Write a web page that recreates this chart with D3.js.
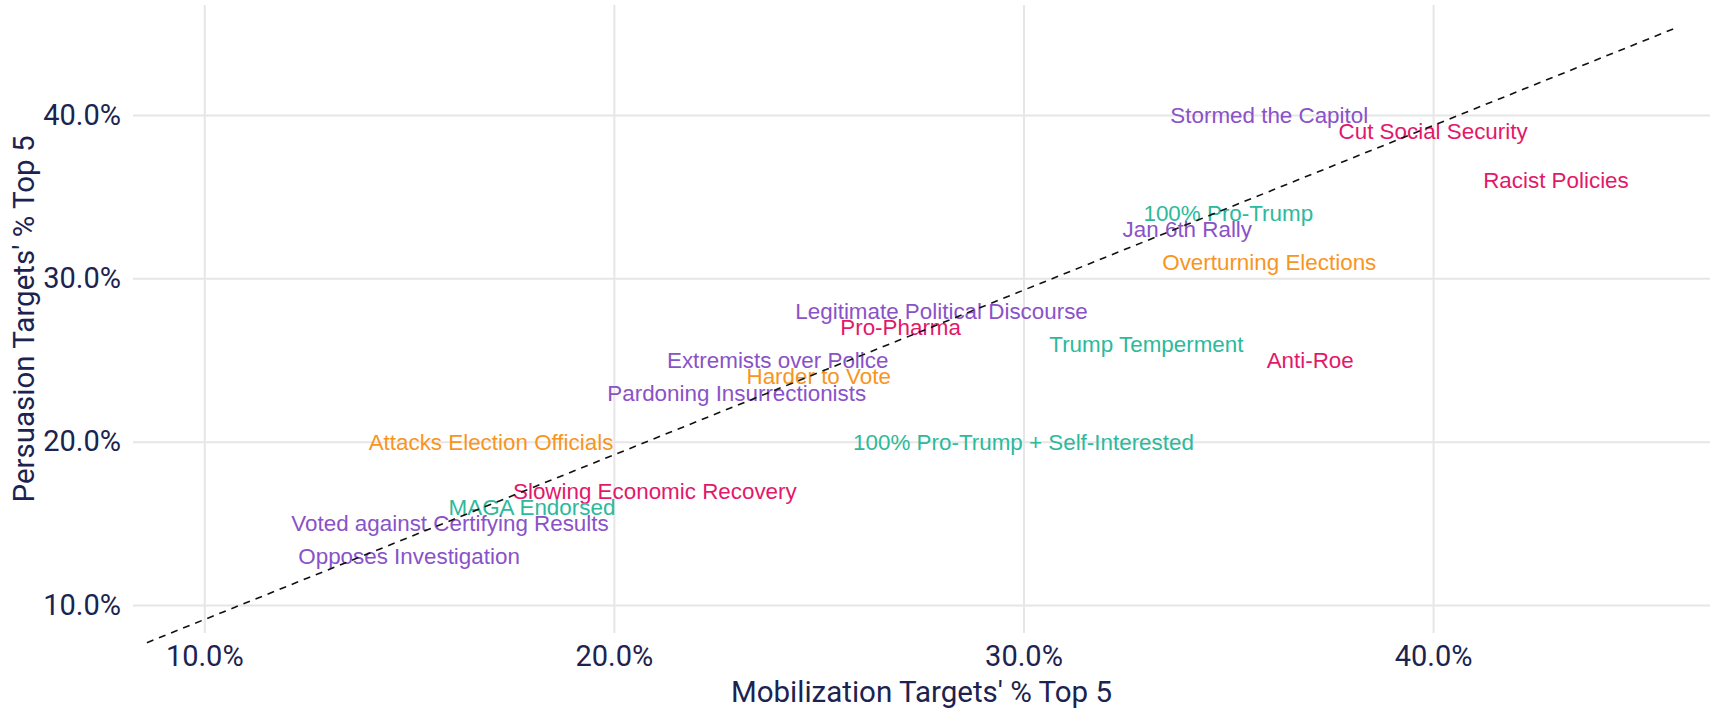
<!DOCTYPE html>
<head>
<meta charset="utf-8">
<title></title>
<style>
body { margin: 0; background: #fff; }
.grid line { stroke: #e6e6e6; stroke-width: 2px; }
.grid path { display: none; }
.tick text { fill: #1c2350; font: 29px Roboto, sans-serif; }
.axis-title { fill: #1c2350; font: 29.5px Roboto, sans-serif; }
.label { font: 22.4px "Liberation Sans", Arial, sans-serif; }
.refline { fill: none; stroke: #111; stroke-width: 1.6px; stroke-dasharray: 7,6; }
</style>
</head>
<body>
<script src="https://cdn.jsdelivr.net/npm/d3@7"></script>
<script>

// message tested, % of mobilization / persuasion targets ranking it top 5
var labels = ["Stormed the Capitol", "Cut Social Security", "Racist Policies",
  "100% Pro-Trump", "Jan 6th Rally", "Overturning Elections",
  "Legitimate Political Discourse", "Pro-Pharma", "Trump Temperment", "Anti-Roe",
  "Extremists over Police", "Harder to Vote", "Pardoning Insurrectionists",
  "Attacks Election Officials", "100% Pro-Trump + Self-Interested",
  "Slowing Economic Recovery", "MAGA Endorsed",
  "Voted against Certifying Results", "Opposes Investigation"];
var mobilization = [36, 40, 43, 35, 34, 36, 28, 27, 33, 37, 24, 25, 23, 17, 30, 21, 18, 16, 15];
var persuasion   = [40, 39, 36, 34, 33, 31, 28, 27, 26, 25, 25, 24, 23, 20, 20, 17, 16, 15, 13];
var groups = ["jan6", "policy", "policy", "trump", "jan6", "elections",
  "jan6", "policy", "trump", "policy", "jan6", "elections", "jan6",
  "elections", "trump", "policy", "trump", "jan6", "jan6"];

var groupNames  = ["jan6", "trump", "elections", "policy"];
var groupColors = ["#8a52c8", "#2db99b", "#f8951f", "#e3186a"];

var xTicks = [10, 20, 30, 40];
var yTicks = [10, 20, 30, 40];

// dashed reference line end points (mobilization %, persuasion %)
var refX = [8.6, 45.9];
var refY = [7.7, 45.3];

var width = 1719,
    height = 708;
var margin = {top: 5, right: 9, bottom: 75, left: 133};
var pw = width - margin.left - margin.right,
    ph = height - margin.top - margin.bottom;

var svg = d3.select("body").append("svg")
    .attr("width", width)
    .attr("height", height);

var g = svg.append("g")
    .attr("transform", "translate(" + margin.left + "," + margin.top + ")");

var x = d3.scaleLinear().domain([8.26, 46.76]).range([0, pw]);
var y = d3.scaleLinear().domain([8.29, 46.73]).range([ph, 0]);
var color = d3.scaleOrdinal().domain(groupNames).range(groupColors);

var fmt = function(d) { return d.toFixed(1) + "%"; };

g.append("g")
    .attr("class", "grid")
    .attr("transform", "translate(0," + ph + ")")
    .call(d3.axisBottom(x).tickValues(xTicks).tickFormat(fmt)
      .tickSizeInner(-ph).tickSizeOuter(0).tickPadding(12));

g.append("g")
    .attr("class", "grid")
    .call(d3.axisLeft(y).tickValues(yTicks).tickFormat(fmt)
      .tickSizeInner(-pw).tickSizeOuter(0).tickPadding(12));

g.selectAll(".grid .tick text").attr("fill", null);

var data = labels.map(function(l, i) {
  return {label: l, x: mobilization[i], y: persuasion[i], group: groups[i]};
});

g.append("g")
  .selectAll("text")
  .data(data)
  .enter().append("text")
    .attr("class", "label")
    .attr("x", function(d) { return x(d.x); })
    .attr("y", function(d) { return y(d.y); })
    .attr("dy", "0.35em")
    .attr("text-anchor", "middle")
    .style("fill", function(d) { return color(d.group); })
    .text(function(d) { return d.label; });

var refPts = refX.map(function(v, i) { return [v, refY[i]]; });
g.append("path")
    .attr("class", "refline")
    .attr("d", d3.line().x(function(d) { return x(d[0]); }).y(function(d) { return y(d[1]); })(refPts));

svg.append("text")
    .attr("class", "axis-title")
    .attr("x", margin.left + pw / 2)
    .attr("y", 702)
    .attr("text-anchor", "middle")
    .text("Mobilization Targets' % Top 5");

svg.append("text")
    .attr("class", "axis-title")
    .attr("transform", "translate(34," + (margin.top + ph / 2) + ") rotate(-90)")
    .attr("text-anchor", "middle")
    .text("Persuasion Targets' % Top 5");

</script>
</body>
</html>
